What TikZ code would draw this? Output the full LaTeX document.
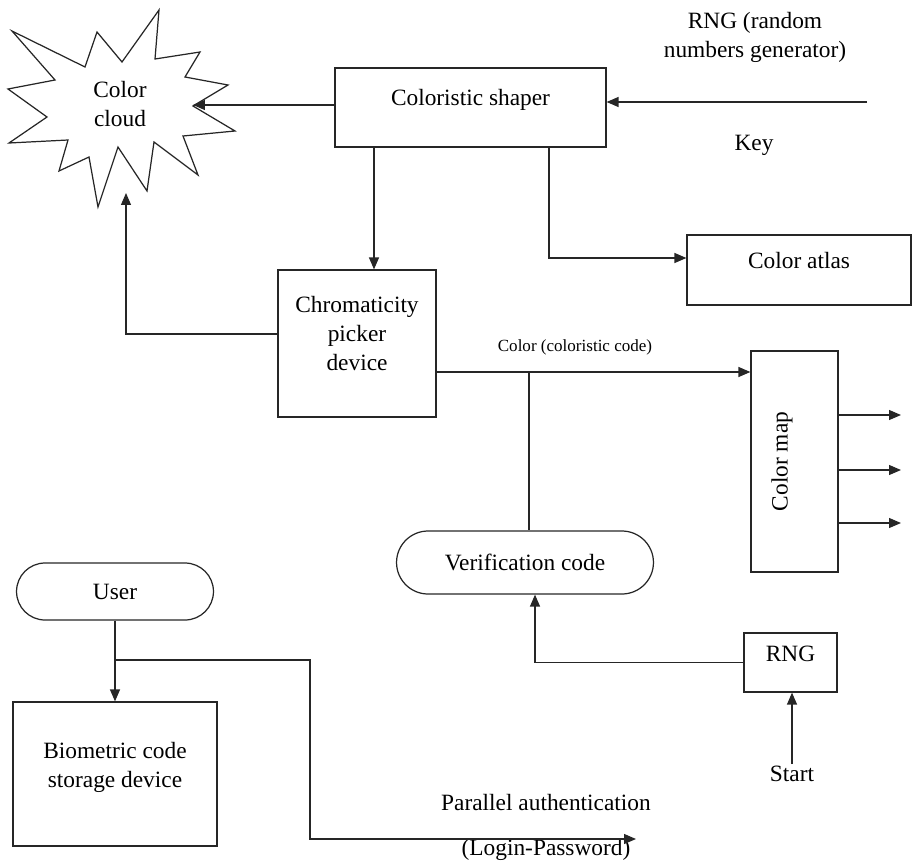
\documentclass[tikz,border=0pt]{standalone}
\usepackage{fontspec}
\setmainfont{Liberation Serif}
\usetikzlibrary{arrows.meta,positioning,shapes.misc}
\tikzset{
  txt/.style={font=\fontsize{13.3pt}{16.5pt}\selectfont, align=center, inner sep=1pt},
  codelbl/.style={font=\fontsize{9.7pt}{12pt}\selectfont, inner sep=1pt},
  box/.style={txt, draw=black!85, line width=0.7pt, inner sep=2pt},
  pill/.style={box, rounded rectangle},
  wire/.style={draw=black!85, line width=0.7pt},
  arrow/.style={wire, -{Triangle[length=2.4mm,width=2mm]}}
}

\begin{document}
\begin{tikzpicture}[x=0.02cm, y=-0.02cm]
  \useasboundingbox (0,0) rectangle (913,862);

  \draw[wire] (12,31) -- (85,67) -- (97,32) -- (122,62) -- (159,10) -- (155,59) -- (200,52) -- (185,77)
    -- (228,85) -- (193,106) -- (235,131) -- (183,136) -- (198,175) -- (154,142) -- (147,191) -- (118,147)
    -- (98,207) -- (89,157) -- (59,171) -- (68,140) -- (9,143) -- (47,117) -- (8,89) -- (55,80) -- cycle;
  \node[txt] (cloud) at (120,104) {Color\\cloud};
  \coordinate (cloudR) at (193,105);
  \coordinate (cloudB) at (126,193);

  \node[box, minimum width=5.42cm, minimum height=1.58cm, text depth=12pt] (shaper) at (470.5,107.5) {Coloristic shaper};
  \node[box, minimum width=3.16cm, minimum height=2.94cm, text depth=11.4pt] (chroma) at (357,343.5) {Chromaticity\\picker\\device};
  \node[box, minimum width=4.48cm, minimum height=1.4cm, text depth=10.4pt] (atlas) at (799,270) {Color atlas};
  \node[box, rotate=90, minimum width=4.42cm, minimum height=1.74cm, text depth=17pt] (cmap) at (794.5,461.5) {Color map};
  \node[pill, minimum width=5.28cm, minimum height=1.26cm] (verif) at (525,562.5) {Verification code};
  \node[box, minimum width=1.86cm, minimum height=1.18cm, text depth=9.6pt] (rng) at (790.5,662.5) {RNG};
  \node[pill, minimum width=4.08cm, minimum height=1.14cm] (user) at (115,591.5) {User};
  \node[box, minimum width=4.08cm, minimum height=2.88cm, text depth=10.9pt] (bio) at (115,774) {Biometric code\\storage device};

  \node[txt] (rngtxt) at (755,37) {RNG (random\\numbers generator)};
  \node[txt] (key) at (754,145) {Key};
  \node[txt] (start) at (792,774) {Start};
  \node[txt] (par) at (546,802) {Parallel authentication};
  \node[txt] (login) at (546,850) {(Login-Password)};
  \node[codelbl] (code) at (575,347) {Color (coloristic code)};

  \coordinate (keyin) at (867,102);
  \coordinate (split) at (529,372);
  \coordinate (ubr) at (user.south |- 0,660);
  \coordinate (auth) at (636,839);

  \draw[arrow] (shaper.west |- cloudR) -- (cloudR);
  \draw[arrow] (keyin) -- (keyin -| shaper.east);
  \draw[arrow] (shaper.south -| 374,0) -- (chroma.north -| 374,0);
  \draw[arrow] (shaper.south -| 549,0) |- (atlas.west |- 0,258);
  \draw[arrow] (chroma.west |- 0,334) -| (cloudB);
  \draw[arrow] (chroma.east |- split) -- (cmap.north |- split);
  \draw[wire] (split) -- (verif.north -| split);
  \foreach \y in {415,470,523} {
    \coordinate (out) at (901,\y);
    \draw[arrow] (cmap.south |- out) -- (out);
  }
  \draw[arrow] (rng.west) -| (verif.south -| 535,0);
  \draw[arrow] (start.north) -- (start.north |- rng.south);
  \draw[arrow] (user.south) -- (bio.north);
  \draw[arrow] (ubr) -| (auth -| 310,0) -- (auth);
\end{tikzpicture}
\end{document}
